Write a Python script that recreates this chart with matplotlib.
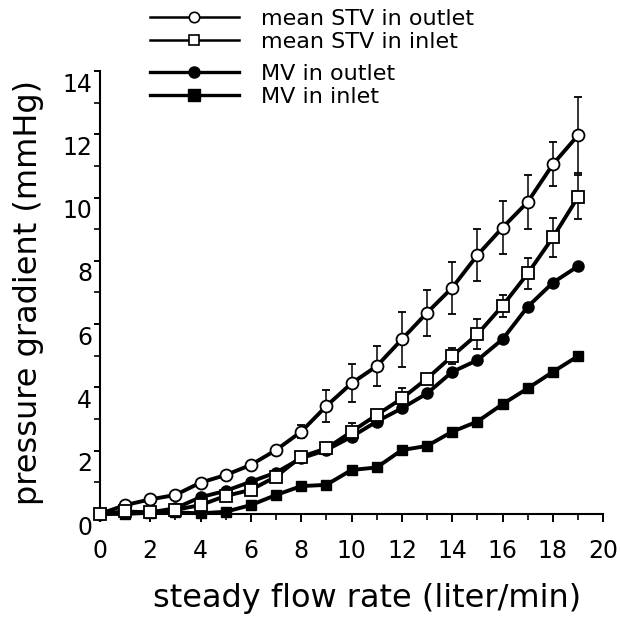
import numpy as np
import matplotlib
matplotlib.use('Agg')
import matplotlib.pyplot as plt
import matplotlib.transforms as mtransforms
from matplotlib.lines import Line2D

## DATA---------------------------------------------------------------------------
flow = list(range(20))

stv_outlet = [0.0, 0.28, 0.46, 0.6, 0.99, 1.23, 1.55, 2.02, 2.6, 3.41,
              4.13, 4.67, 5.52, 6.36, 7.15, 8.18, 9.05, 9.86, 11.05, 11.97]
stv_outlet_err = [0, 0, 0, 0, 0, 0, 0, 0, 0.2, 0.5,
                  0.6, 0.63, 0.87, 0.73, 0.82, 0.82, 0.85, 0.84, 0.69, 1.2]

stv_inlet = [0.0, 0.08, 0.05, 0.13, 0.28, 0.57, 0.76, 1.18, 1.81, 2.07,
             2.6, 3.13, 3.65, 4.28, 4.99, 5.68, 6.58, 7.6, 8.74, 10.02]
stv_inlet_err = [0, 0, 0, 0, 0, 0, 0, 0, 0.1, 0,
                 0.26, 0.15, 0.32, 0.12, 0.24, 0.48, 0.34, 0.5, 0.62, 0.7]

mv_outlet = [0.0, 0.05, 0.05, 0.18, 0.53, 0.73, 1.02, 1.31, 1.76, 2.02,
             2.44, 2.92, 3.34, 3.81, 4.49, 4.86, 5.52, 6.55, 7.31, 7.83]

mv_inlet = [0.0, 0.0, 0.04, 0.05, 0.02, 0.07, 0.28, 0.6, 0.88, 0.92,
            1.39, 1.47, 2.02, 2.15, 2.6, 2.92, 3.47, 3.97, 4.49, 4.99]

labels = ['mean STV in outlet', 'mean STV in inlet', 'MV in outlet', 'MV in inlet']
x_ticks = list(range(0, 21, 2))
y_ticks = list(range(0, 15, 2))
## -------------------------------------------------------------------------------

tick_size = 17
label_size = 23
legend_size = 16
lw = 2.8
ms = 8.6

fig = plt.figure(figsize=(6.2, 6.17), dpi=100)
ax = fig.add_axes([0.161, 0.167, 0.812, 0.718])

# MV curves (bottom layers)
ax.plot(flow, mv_inlet, color='k', lw=lw, marker='s', ms=ms - 0.8,
        mfc='k', mec='k', zorder=2, clip_on=False)
ax.plot(flow, mv_outlet, color='k', lw=lw, marker='o', ms=ms - 0.6,
        mfc='k', mec='k', zorder=3, clip_on=False)

# STV curves with error bars
for y, err, mk, z in [(stv_outlet, stv_outlet_err, 'o', 4),
                      (stv_inlet, stv_inlet_err, 's', 5)]:
    eb = ax.errorbar(flow, y, yerr=err, color='k', lw=lw,
                     marker=mk, ms=ms if mk == 'o' else ms - 0.5,
                     mfc='white', mec='k', mew=1.3,
                     ecolor='k', elinewidth=1.1, capsize=2.8, capthick=1.1,
                     zorder=z)
    eb.lines[0].set_clip_on(False)

##PLOT SETTING--------------------------------------------------------------------
ax.set_xlim(0, 20)
ax.set_ylim(0, 14)
for side in ['top', 'right']:
    ax.spines[side].set_visible(False)
for side in ['left', 'bottom']:
    ax.spines[side].set_linewidth(1.5)
    ax.spines[side].set_zorder(1)

ax.set_xticks(x_ticks)
ax.set_xticks(range(1, 20, 2), minor=True)
ax.set_yticks(y_ticks)
ax.set_yticks(range(1, 14, 2), minor=True)
ax.tick_params(axis='x', which='major', direction='out', length=6, width=1.4,
               pad=12, labelsize=tick_size)
ax.tick_params(axis='x', which='minor', direction='out', length=4, width=1.2)
ax.tick_params(axis='y', which='major', direction='out', length=4, width=1.4,
               pad=1.5, labelsize=tick_size)
ax.tick_params(axis='y', which='minor', direction='out', length=4, width=1.2)

# y tick labels sit a little below their ticks in the original
offset = mtransforms.ScaledTranslation(0, -8 / 72, fig.dpi_scale_trans)
for lab in ax.get_yticklabels():
    lab.set_transform(lab.get_transform() + offset)

ax.set_xlabel('steady flow rate (liter/min)', fontsize=label_size, va='top')
ax.xaxis.set_label_coords(0.53, -0.156)
ax.set_ylabel('pressure gradient (mmHg)', fontsize=label_size, va='center')
ax.yaxis.set_label_coords(-0.141, 0.5)

# legend, drawn as two blocks like the original
stv_handles = [
    Line2D([], [], color='k', lw=1.8, marker='o', ms=7.5, mfc='white', mec='k', mew=1.2),
    Line2D([], [], color='k', lw=1.8, marker='s', ms=7, mfc='white', mec='k', mew=1.2),
]
mv_handles = [
    Line2D([], [], color='k', lw=2.4, marker='o', ms=8, mfc='k', mec='k'),
    Line2D([], [], color='k', lw=2.4, marker='s', ms=8, mfc='k', mec='k'),
]
leg_kw = dict(loc='upper left', frameon=False, fontsize=legend_size,
              handlelength=4.0, handletextpad=1.0, labelspacing=0.16,
              borderaxespad=0, borderpad=0)
fig.legend(stv_handles, labels[:2], bbox_to_anchor=(0.242, 0.986), **leg_kw)
fig.legend(mv_handles, labels[2:], bbox_to_anchor=(0.242, 0.897), **leg_kw)

fig.savefig('out.png', dpi=100)
